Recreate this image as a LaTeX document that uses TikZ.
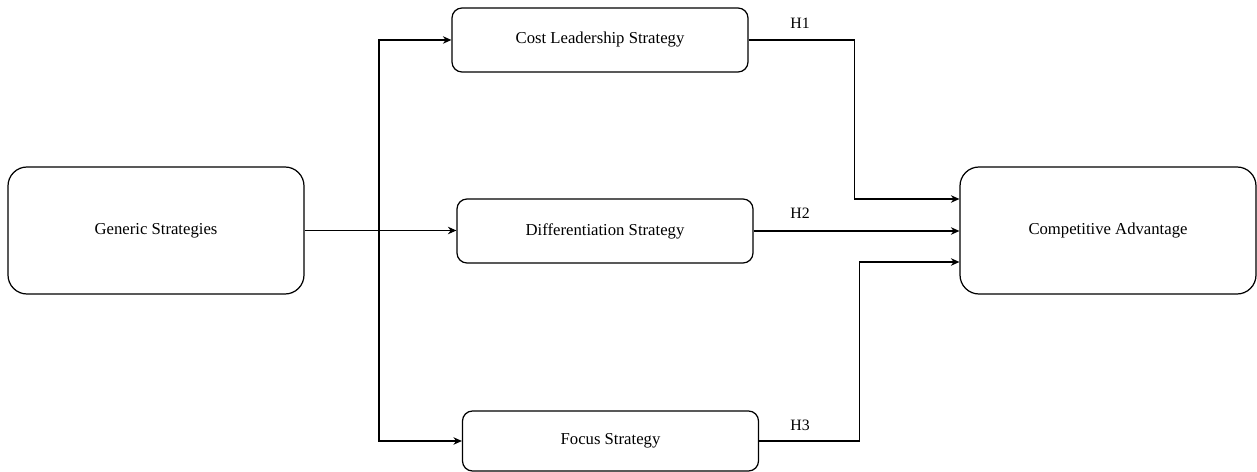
\documentclass[tikz,border=0pt]{standalone}
\usepackage{fontspec}
\setmainfont{Liberation Serif}
\usepackage{tikz}
\usetikzlibrary{calc}
\usetikzlibrary{arrows.meta}
\tikzset{
    box/.style={draw, line width=0.7pt, rounded corners=0.2cm, minimum width=5.92cm, minimum height=1.28cm, align=center, font=\fontsize{9.5}{11}\selectfont},
    bigbox/.style={box, rounded corners=0.38cm, minimum height=2.54cm},
    arr/.style={line width=0.6pt, -{Stealth[length=1.7mm,width=1.5mm]}},
    hyp/.style={font=\fontsize{9}{11}\selectfont}
}

\begin{document}
\begin{tikzpicture}
\useasboundingbox (0,0) rectangle (25.14,9.44);
\node[bigbox] (gen) at (3.12,4.83) {Generic Strategies};
\node[box] (cost) at (12.0,8.64) {Cost Leadership Strategy};
\node[box] (diff) at (12.1,4.82) {Differentiation Strategy};
\node[box, minimum height=1.2cm] (focus) at (12.21,0.62) {Focus Strategy};
\node[bigbox] (comp) at (22.16,4.83) {Competitive Advantage};
% left side
\coordinate (split) at (7.58,4.83);
\draw[arr] (gen.east) -- (gen.east -| diff.west);
\draw[arr] (split) |- (cost.west);
\draw[arr] (split) |- (focus.west);
% right side
\coordinate (in1) at ($(comp.west)+(0,0.63)$);
\coordinate (in3) at ($(comp.west)+(0,-0.63)$);
\draw[arr] (cost.east) -| ($(in1)+(-2.1,0)$) -- (in1);
\draw[arr] (diff.east) -- (diff.east -| comp.west);
\draw[arr] (focus.east) -| ($(in3)+(-2.0,0)$) -- (in3);
\node[hyp] (h1) at (16.0,8.98) {H1};
\node[hyp] (h2) at (16.0,5.18) {H2};
\node[hyp] (h3) at (16.0,0.94) {H3};
\end{tikzpicture}
\end{document}
